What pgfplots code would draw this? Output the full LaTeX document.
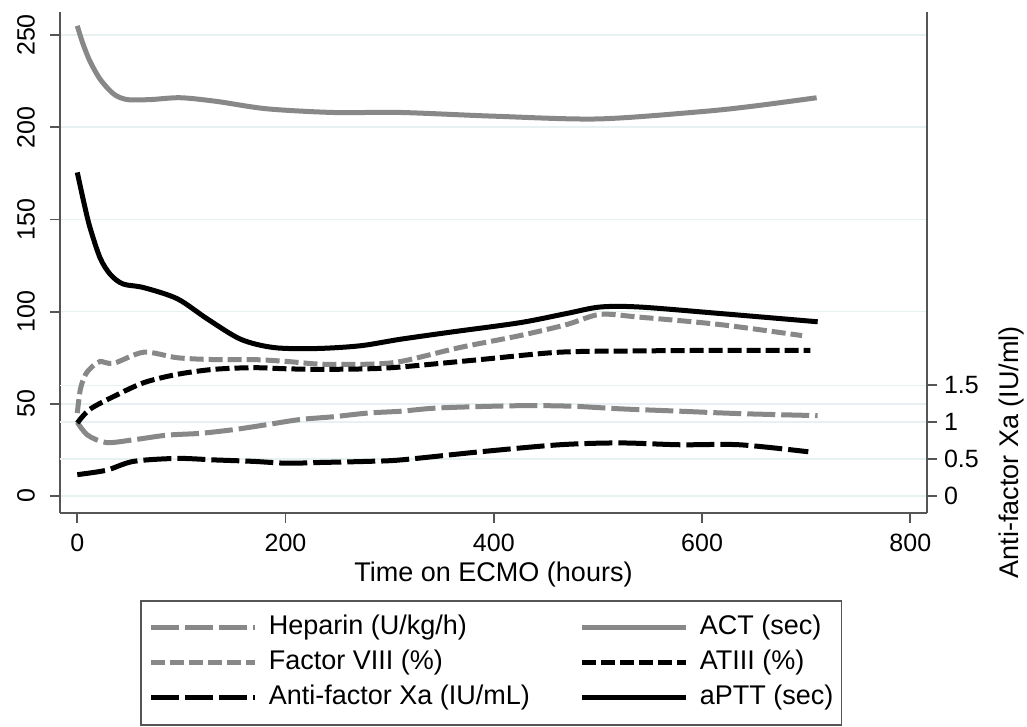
\documentclass[border=0pt]{standalone}
\usepackage{fontspec}
\setmainfont{Liberation Sans}
\usepackage{pgfplots}
\pgfplotsset{compat=1.18}
\definecolor{linegray}{RGB}{136,136,136}
\definecolor{gridc}{RGB}{232,241,242}
\definecolor{axisc}{RGB}{85,85,85}

\pgfplotsset{
  base/.style={
    at={(0,0)}, anchor=south west,
    scale only axis, width=433.5pt, height=250.5pt,
    xmin=-16.6, xmax=816,
    tick align=outside, major tick length=5pt,
    tick style={axisc, line width=0.9pt},
    axis line style={axisc, line width=1pt},
    /pgf/number format/assume math mode=true,
    ticklabel style={font=\fontsize{12.5}{14}\selectfont},
    label style={font=\fontsize{13.5}{15}\selectfont},
  },
  heparin/.style={linegray, line width=2.5pt, dash pattern=on 14pt off 3pt},
  act/.style={linegray, line width=2.5pt},
  f8/.style={linegray, line width=2.5pt, dash pattern=on 7pt off 2.5pt},
  at3/.style={black, line width=2.5pt, dash pattern=on 7pt off 2.5pt},
  axa/.style={black, line width=2.5pt, dash pattern=on 14pt off 3pt},
  aptt/.style={black, line width=2.5pt},
}

\begin{document}
\begin{tikzpicture}
% left scale
\begin{axis}[base,
    axis x line*=bottom, axis y line*=left,
    ymin=-9.2, ymax=262.5,
    xtick={0,200,...,800},
    ytick={0,50,...,250},
    yticklabel style={xshift=-4pt, rotate=90, anchor=south},
    xticklabel shift=2pt,
    ymajorgrids, grid style={gridc, line width=0.8pt},
    extra y ticks={20,40,60}, extra y tick labels={},
    extra y tick style={major tick length=0pt, grid=major},
    xlabel={Time on ECMO (hours)},
    xlabel style={at={(axis description cs:0.5,0)}, anchor=center, yshift=-31pt},
]
\addplot[act, smooth] coordinates {
(0,255) (5,246) (12,236) (22,226) (35,218) (48,215) (70,215) (99,216)
(134,214) (182,210) (246,208) (311,208) (400,206) (500,204.5) (600,208.5)
(650,211.5) (710,216)};
\addplot[aptt, smooth] coordinates {
(0,175.5) (6,160) (12,146) (22,129) (32,120) (44,115) (64,113) (96,107)
(125,96) (157,85) (189,80.5) (230,80) (272,81.5) (310,85) (360,89)
(425,94) (470,99) (502,102.5) (540,102.5) (617,99) (711,94.5)};
\addplot[f8, smooth] coordinates {
(0,45) (3,58) (8,66) (15,70.5) (22,73) (35,72) (64,78) (96,75) (131,74)
(169,74) (201,73) (234,71.5) (279,71.5) (311,73) (367,80.5) (425,87)
(470,93) (502,98.5) (540,97) (617,93) (696,87)};
\addplot[heparin, smooth] coordinates {
(0,40) (10,33) (28,29) (54,30.5) (86,33) (118,34) (150,36) (182,38.7)
(214,41.5) (246,43) (279,45) (311,46) (348,47.8) (425,49) (475,48.7)
(521,47.3) (579,46) (636,44.7) (711,43.6)};
\addplot[at3, smooth] coordinates {
(0,39.6) (12,47) (35,54) (64,61.5) (96,66) (131,68.7) (169,69.6) (201,69)
(234,68.7) (279,69) (311,70) (387,74) (463,78) (540,78.7) (617,79) (704,79)};
\end{axis}
% right scale: anti-factor Xa
\begin{axis}[base,
    axis x line=none, axis y line*=right,
    ymin=-0.23, ymax=6.5625,
    ytick={0,0.5,1,1.5},
    ylabel={Anti-factor Xa (IU/ml)},
    ylabel style={at={(axis description cs:1.097,0.121)}, anchor=center},
    legend columns=2,
    legend cell align=left,
    legend image code/.code={\draw[#1] (0pt,0pt) -- (52pt,0pt);},
    legend style={at={(0,0)}, anchor=north west, xshift=40pt, yshift=-43.5pt,
      draw=axisc, line width=0.8pt, inner xsep=4pt, inner ysep=7pt,
      font=\fontsize{13.5}{15}\selectfont, row sep=4.5pt,
      nodes={inner sep=0pt, text height=10pt, text depth=3pt, anchor=west},
      /tikz/column 1/.style={column sep=5.5pt},
      /tikz/column 2/.style={column sep=25pt},
      /tikz/column 3/.style={column sep=5.5pt}},
]
\addlegendimage{heparin}\addlegendentry{Heparin (U/kg/h)}
\addlegendimage{act}\addlegendentry{ACT (sec)}
\addlegendimage{f8}\addlegendentry{Factor VIII (\%)}
\addlegendimage{at3}\addlegendentry{ATIII (\%)}
\addplot[axa, smooth] coordinates {
(0,0.29) (28,0.35) (54,0.47) (96,0.51) (131,0.49) (169,0.47) (201,0.445)
(234,0.455) (279,0.47) (311,0.49) (387,0.60) (463,0.695) (521,0.72)
(579,0.695) (636,0.695) (702,0.60)};
\addlegendentry{Anti-factor Xa (IU/mL)}
\addlegendimage{aptt}\addlegendentry{aPTT (sec)}
\end{axis}
\pgfresetboundingbox
\path (-30pt,-107pt) rectangle (483.5pt,256.5pt);
\end{tikzpicture}
\end{document}
